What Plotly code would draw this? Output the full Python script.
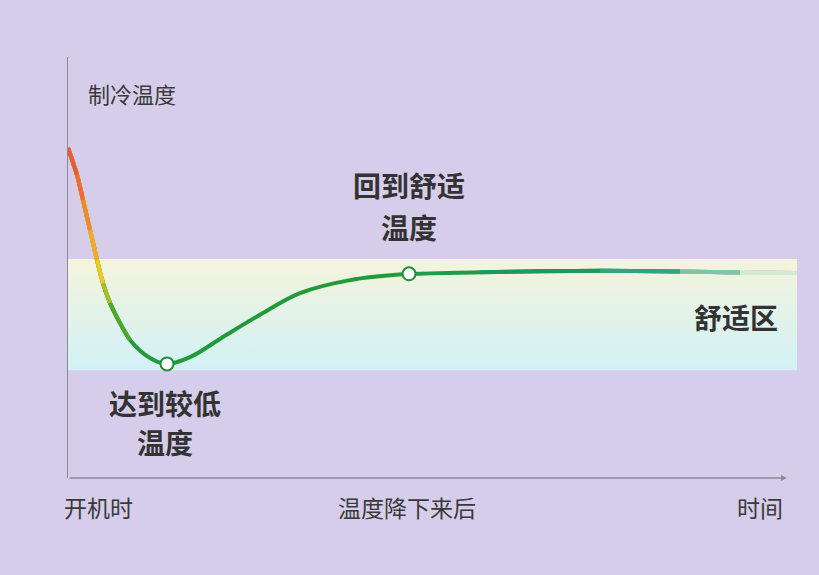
import plotly.graph_objects as go

# данные кривой (время 0..100, температура в условных единицах)
time = [0.0, 1.23, 2.06, 3.02, 3.98, 4.80, 5.76, 7.13, 8.50, 11.25, 13.58, 16.74,
        21.26, 26.75, 31.82, 38.68, 46.78, 56.52, 72.98, 83.95, 92.18, 100.0]
temp = [78.4, 72.0, 66.0, 58.9, 51.8, 46.3, 41.6, 36.8, 32.8, 28.5, 27.1, 28.7,
        33.5, 39.2, 43.9, 47.0, 48.5, 48.9, 49.2, 49.05, 48.8, 48.7]

# комфортная зона
comfort_low = 25.6
comfort_high = 52.0

# ключевые точки (индексы)
key_points = [10, 16]

x_labels = ["开机时", "温度降下来后", "时间"]

BG = "#d6cdea"
FONT = "Noto Sans CJK SC"
TXT = "#333333"

W, H = 819, 575
L, R, T, B = 68, 22, 57, 97


def paper(px, py):
    # пиксели -> координаты paper
    return (px - L) / (W - L - R), (H - B - py) / (H - T - B)


def seg(x, y, color, width=4):
    return go.Scatter(x=x, y=y, mode="lines",
                      line=dict(color=color, width=width, shape="spline"),
                      hoverinfo="skip", showlegend=False)


fig = go.Figure()

# зона комфорта с вертикальным градиентом
fig.add_trace(go.Scatter(
    x=[0, 100, 100, 0, 0],
    y=[comfort_low, comfort_low, comfort_high, comfort_high, comfort_low],
    mode="lines", line=dict(width=0), fill="toself",
    fillgradient=dict(type="vertical", start=comfort_low, stop=comfort_high,
                      colorscale=[[0, "#d2f1f6"], [1, "#f4f4dc"]]),
    hoverinfo="skip", showlegend=False,
))

# основная кривая (зелёная) до точки возврата
fig.add_trace(seg(time[:17], temp[:17], "#229a3a"))

# хвост кривой: зелёный -> бирюзовый -> затухание
for i, c in [(16, "#209a4c"), (17, "#1d9960"), (18, "#1a9878")]:
    fig.add_trace(seg(time[i:], temp[i:], c))
for i, a in [(18, 0.12), (19, 0.4), (20, 0.75)]:
    fig.add_trace(seg(time[i:], temp[i:], f"rgba(242,244,224,{a})", 5))

# градиент в начале: слои от зелёного к красному
head = [(8, "#4ea82a"), (6, "#a8c020"), (5, "#eecb1c"), (4, "#f5a826"),
        (3, "#f4862c"), (2, "#f06a34"), (1, "#ec5a3a")]
for i, c in head:
    fig.add_trace(seg(time[:i + 1], temp[:i + 1], c))

# маркеры
fig.add_trace(go.Scatter(
    x=[time[i] for i in key_points], y=[temp[i] for i in key_points],
    mode="markers",
    marker=dict(size=13, color="white", line=dict(color="#1f8f3a", width=2)),
    hoverinfo="skip", showlegend=False,
))

annotations = []


def text(s, px, py, size, bold=False, color=TXT):
    x, y = paper(px, py)
    annotations.append(dict(
        text=f"<b>{s}</b>" if bold else s, x=x, y=y, xref="paper", yref="paper",
        showarrow=False, xanchor="center", yanchor="middle",
        font=dict(family=FONT, size=size, color=color),
    ))


text("制冷温度", 132, 93, 22, color="#3a3a3a")
text("回到舒适", 409, 185, 28, True)
text("温度", 409, 227, 28, True)
text("达到较低", 165, 403, 28, True)
text("温度", 165, 442, 28, True)
text("舒适区", 736, 317, 28, True)
for s, px in zip(x_labels, [98, 407, 760]):
    text(s, px, 507, 23, color="#3a3a3a")

# ось X со стрелкой
annotations.append(dict(
    x=98.6, y=0, ax=0, ay=0, xref="x", yref="y", axref="x", ayref="y",
    showarrow=True, arrowhead=2, arrowsize=0.9, arrowwidth=1.3,
    arrowcolor="#8c8898", text="",
))

fig.update_layout(
    width=W, height=H,
    margin=dict(l=L, r=R, t=T, b=B),
    paper_bgcolor=BG, plot_bgcolor=BG,
    annotations=annotations,
    xaxis=dict(range=[0, 100], visible=False, fixedrange=True),
    yaxis=dict(range=[0, 100], showgrid=False, zeroline=False, showticklabels=False,
               showline=True, linecolor="#8c8898", linewidth=1.3, fixedrange=True),
    showlegend=False,
)

# убираем отступ body, чтобы график начинался с (0,0)
fig.write_html("out.html", config={"displayModeBar": False},
               post_script="document.body.style.margin='0';")
